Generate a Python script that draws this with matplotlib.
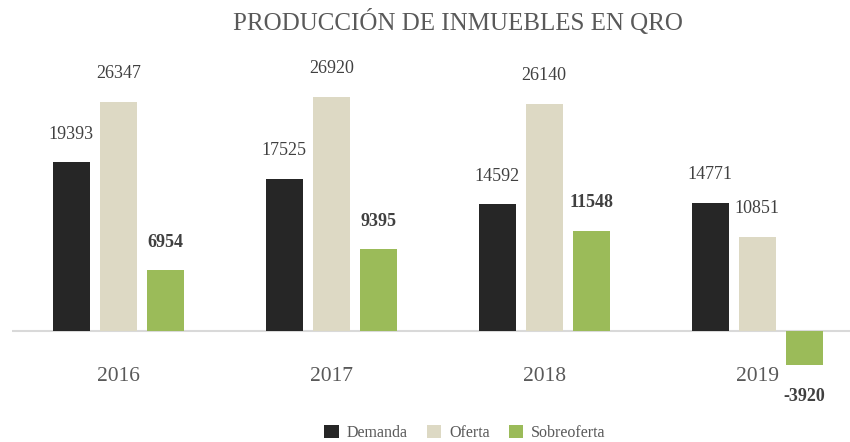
import matplotlib.pyplot as plt
import numpy as np

years = ['2016', '2017', '2018', '2019']
demanda = [19393, 17525, 14592, 14771]
oferta = [26347, 26920, 26140, 10851]
sobreoferta = [6954, 9395, 11548, -3920]

plt.rcParams['font.family'] = ['Liberation Serif', 'DejaVu Serif']

fig = plt.figure(figsize=(8.5, 4.42), dpi=100)
ax = fig.add_axes([12 / 850, 1 - 370 / 442, 838 / 850, (370 - 87.6) / 442])

x = np.arange(len(years))
step = 47 / 213
width = 37 / 213
series = [
    ('Demanda', demanda, '#262626', 'normal'),
    ('Oferta', oferta, '#ddd9c4', 'normal'),
    ('Sobreoferta', sobreoferta, '#9bbb59', 'bold'),
]

for k, (name, vals, color, weight) in enumerate(series):
    pos = x + (k - 1) * step
    ax.bar(pos, vals, width=width, color=color, label=name, zorder=2)
    for px, v in zip(pos, vals):
        off = 28 if v >= 0 else -32
        ax.annotate(str(v), (px, v), xytext=(0, off), textcoords='offset pixels',
                    ha='center', va='center', fontsize=13, color='#404040',
                    fontweight=weight)

# zero line
ax.axhline(0, color='#d9d9d9', linewidth=1.5, zorder=1)

# year labels under the zero line
for i, y in enumerate(years):
    ax.annotate(y, (i, 0), xytext=(0, -46), textcoords='offset pixels',
                ha='center', va='center', fontsize=15.5, color='#595959')

ax.set_xlim(-0.5, (850 - 118) / 213)
ax.set_ylim(-4500, 28000)
ax.axis('off')

fig.text(458 / 850, 1 - 22 / 442, 'PRODUCCIÓN DE INMUEBLES EN QRO',
         ha='center', va='center', fontsize=18, color='#595959')

fig.legend(loc='center', bbox_to_anchor=(465 / 850, 1 - 433 / 442), ncol=3,
           frameon=False, fontsize=11.5, handlelength=0.9, handleheight=0.9,
           handletextpad=0.5, columnspacing=1.2, labelcolor='#595959')

fig.savefig('out.png', dpi=100)
